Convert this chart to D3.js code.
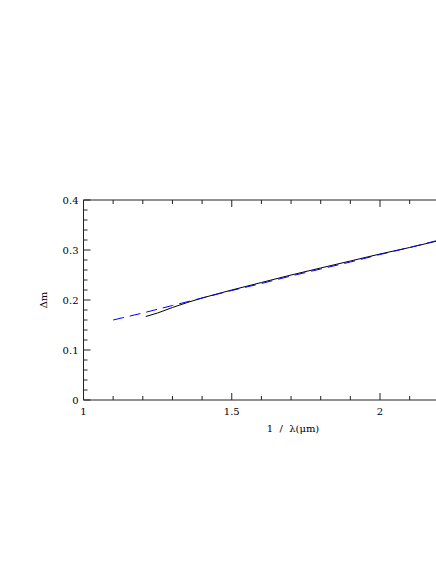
<!DOCTYPE html>
<html><head><meta charset="utf-8">
<script src="https://cdn.jsdelivr.net/npm/d3@7"></script>
<style>body{margin:0;background:#fff;}svg{display:block;}</style>
</head><body>
<script>
const blackX = [1.21, 1.25, 1.30, 1.35, 1.40, 1.50, 1.60, 1.70, 1.80, 1.90, 2.00, 2.10, 2.20];
const blackY = [0.167, 0.174, 0.185, 0.195, 0.204, 0.220, 0.235, 0.250, 0.264, 0.278, 0.292, 0.305, 0.319];
const blueX = [1.10, 1.20, 1.30, 1.40, 1.50, 1.60, 1.70, 1.80, 1.90, 2.00, 2.10, 2.20];
const blueY = [0.160, 0.174, 0.189, 0.204, 0.219, 0.233, 0.248, 0.262, 0.276, 0.291, 0.305, 0.320];
const xMajor = [1, 1.5, 2];
const xTickLabels = ["1", "1.5", "2"];
const yMajor = [0, 0.1, 0.2, 0.3, 0.4];
const yTickLabels = ["0", "0.1", "0.2", "0.3", "0.4"];

const W = 436, H = 564;
const svg = d3.select("body").append("svg").attr("width", W).attr("height", H);
const x = d3.scaleLinear().domain([1, 2.2]).range([83.5, 83.5 + 1.2 * 296.5]);
const y = d3.scaleLinear().domain([0, 0.4]).range([400, 200]);
const font = "DejaVu Serif";
const axisCol = "#222";

const xMinor = d3.range(1, 2.21, 0.1).map(v => +v.toFixed(2)).filter(v => !xMajor.includes(v));
const yMinor = d3.range(0, 0.401, 0.02).map(v => +v.toFixed(3)).filter(v => !yMajor.some(m => Math.abs(m - v) < 1e-9));

const g = svg.append("g");
g.append("line").attr("x1", x(1)).attr("x2", W + 10).attr("y1", y(0)).attr("y2", y(0)).attr("stroke", axisCol);
g.append("line").attr("x1", x(1)).attr("x2", W + 10).attr("y1", y(0.4)).attr("y2", y(0.4)).attr("stroke", axisCol);
g.append("line").attr("x1", x(1)).attr("x2", x(1)).attr("y1", y(0)).attr("y2", y(0.4)).attr("stroke", axisCol);

function xt(v, len) {
  g.append("line").attr("x1", x(v)).attr("x2", x(v)).attr("y1", y(0)).attr("y2", y(0) - len).attr("stroke", axisCol);
  g.append("line").attr("x1", x(v)).attr("x2", x(v)).attr("y1", y(0.4)).attr("y2", y(0.4) + len).attr("stroke", axisCol);
}
xMajor.forEach(v => xt(v, 7));
xMinor.forEach(v => xt(v, 4));
function yt(v, len) {
  g.append("line").attr("x1", x(1)).attr("x2", x(1) + len).attr("y1", y(v)).attr("y2", y(v)).attr("stroke", axisCol);
}
yMajor.forEach(v => yt(v, 7));
yMinor.forEach(v => yt(v, 4));

g.selectAll(".xl").data(xMajor).enter().append("text")
  .attr("x", d => x(d)).attr("y", y(0) + 15).attr("text-anchor", "middle")
  .attr("font-family", font).attr("font-size", 10).text((d, i) => xTickLabels[i]);
g.selectAll(".yl").data(yMajor).enter().append("text")
  .attr("x", x(1) - 5).attr("y", d => y(d) + 4).attr("text-anchor", "end")
  .attr("font-family", font).attr("font-size", 10).text((d, i) => yTickLabels[i]);

g.append("text").attr("x", 293).attr("y", 432).attr("text-anchor", "middle")
  .attr("font-family", font).attr("font-size", 10).attr("xml:space", "preserve").text("1  /  λ(μm)");
g.append("text").attr("transform", "translate(47,300) rotate(-90)").attr("text-anchor", "middle")
  .attr("font-family", font).attr("font-size", 10).text("Δm");

const line = d3.line().x(d => x(d[0])).y(d => y(d[1]));
svg.append("path").datum(blackX.map((v, i) => [v, blackY[i]]))
  .attr("d", line).attr("fill", "none").attr("stroke", "#000").attr("stroke-width", 1);
svg.append("path").datum(blueX.map((v, i) => [v, blueY[i]]))
  .attr("d", line).attr("fill", "none").attr("stroke", "#0000ff").attr("stroke-width", 1)
  .attr("stroke-dasharray", "11,6");
</script>
</body></html>
